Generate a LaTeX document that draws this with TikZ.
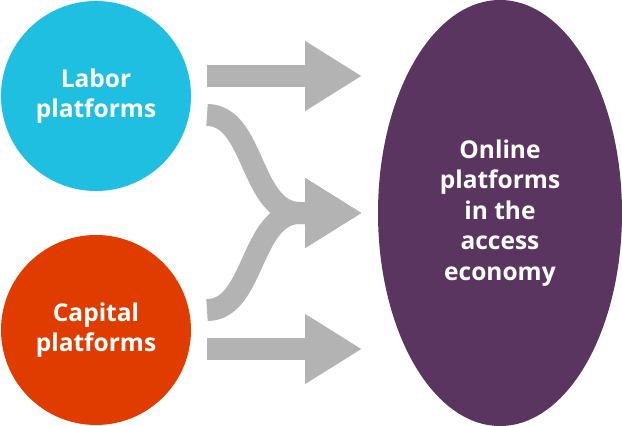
\documentclass[tikz,border=0pt]{standalone}
\usepackage{fontspec}
\setmainfont{Open Sans}
\usetikzlibrary{arrows.meta,shapes.geometric}
\definecolor{laborblue}{HTML}{1EBFE0}
\definecolor{capitalred}{HTML}{E03C00}
\definecolor{accesspurple}{HTML}{5A355F}
\definecolor{arrowgray}{HTML}{B3B3B3}
\begin{document}
\begin{tikzpicture}[x=1pt,y=-1pt,
   platform/.style={circle, minimum size=190pt, inner sep=0pt, text=white,
      font=\fontsize{24.5}{30}\selectfont\bfseries, align=center},
   flowarrow/.style={draw=arrowgray, line width=22pt,
      -{Triangle[length=57pt,width=66pt]}}]
   %% page frame of the reference picture
   \useasboundingbox (0,0) rectangle (622,426);
   
   \node[platform, fill=laborblue] (labor) at (96,96) {Labor\\platforms};
   \node[platform, fill=capitalred] (capital) at (96,330) {Capital\\platforms};
   \node[ellipse, fill=accesspurple, minimum width=244pt, minimum height=426pt,
      inner sep=0pt, text=white, align=center,
      font=\fontsize{24.5}{30.5}\selectfont\bfseries] (online) at (500,213)
      {Online\\platforms\\in the\\access\\economy};
   
   \coordinate (Start1) at (207,76);
   \coordinate (End1) at (362,76);
   \coordinate (Start2) at (207,115);
   \coordinate (Start3) at (207,310);
   \coordinate (Merge) at (300,213);
   \coordinate (End2) at (362,213);
   \coordinate (Start4) at (207,349);
   \coordinate (End4) at (362,349);
   
   %% straight arrows
   \draw[flowarrow] (Start1) -- (End1);
   \draw[flowarrow] (Start4) -- (End4);
   %% the two branches joining in the middle
   \draw[flowarrow] (Start2) .. controls (255,115) and (250,213) .. (Merge) -- (End2);
   \draw[flowarrow] (Start3) .. controls (255,310) and (250,213) .. (Merge) -- (End2);
   
\end{tikzpicture}
\end{document}
